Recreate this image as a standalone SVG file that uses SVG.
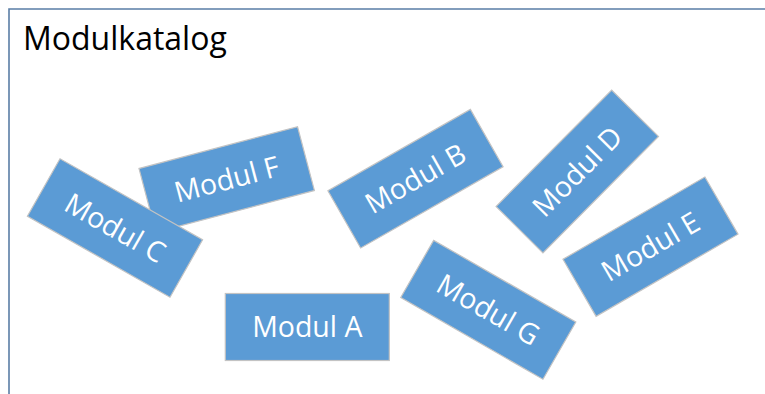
<svg xmlns="http://www.w3.org/2000/svg" width="765" height="394" viewBox="0 0 765 394">
  <style>
    .box { fill: #5b9bd5; stroke: #c3c3c3; stroke-width: 1.2; }
    .lbl { fill: #ffffff; font-family: "Open Sans", "Liberation Sans", sans-serif; font-size: 28.5px; text-anchor: middle; }
    .title { fill: #000000; font-family: "Open Sans", "Liberation Sans", sans-serif; font-size: 32px; }
    .frame { fill: none; stroke: #5a7ea6; stroke-width: 1.6; }
  </style>
  <defs>
    <rect id="card" class="box" x="-82" y="-33" width="164" height="66"/>
  </defs>

  <rect width="765" height="394" fill="#ffffff"/>

  <!-- catalogue frame -->
  <g id="frame">
    <path class="frame" d="M9,394 V9 H765"/>
    <text class="title" x="23" y="50">Modulkatalog</text>
  </g>

  <!-- modules -->
  <g id="modul-f" transform="translate(226.7,179.5) rotate(-14.8)">
    <use href="#card"/>
    <text class="lbl" x="0" y="10">Modul F</text>
  </g>
  <g id="modul-c" transform="translate(115,228) rotate(29.6)">
    <use href="#card"/>
    <text class="lbl" x="0" y="10">Modul C</text>
  </g>
  <g id="modul-b" transform="translate(415.5,178.7) rotate(-29.7)">
    <use href="#card"/>
    <text class="lbl" x="0" y="10">Modul B</text>
  </g>
  <g id="modul-d" transform="translate(577.3,171.5) rotate(-45.2)">
    <use href="#card"/>
    <text class="lbl" x="0" y="10">Modul D</text>
  </g>
  <g id="modul-e" transform="translate(650.5,246.7) rotate(-30.1)">
    <use href="#card"/>
    <text class="lbl" x="0" y="10">Modul E</text>
  </g>
  <g id="modul-a" transform="translate(307.3,327)">
    <rect class="box" x="-82" y="-33.5" width="164" height="67"/>
    <text class="lbl" x="0" y="10">Modul A</text>
  </g>
  <g id="modul-g" transform="translate(488.3,309.8) rotate(29.9)">
    <use href="#card"/>
    <text class="lbl" x="0" y="10">Modul G</text>
  </g>
</svg>
